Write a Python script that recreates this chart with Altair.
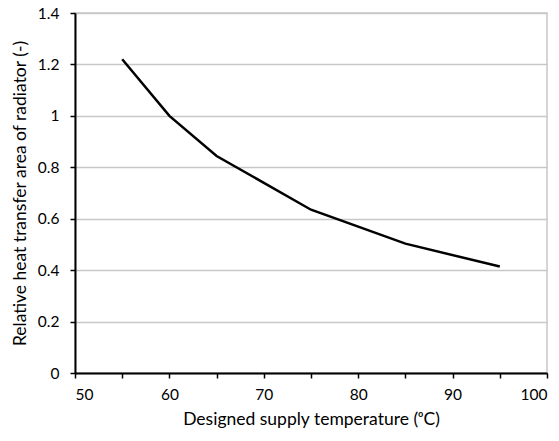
import altair as alt
import pandas as pd

temps = [55, 60, 65, 75, 85, 95]
area = [1.22, 1.0, 0.844, 0.635, 0.503, 0.414]

df = pd.DataFrame({"temp": temps, "area": area})

FONT = "Lato"

line = alt.Chart(df).mark_line(color="black", strokeWidth=2.5).encode(
    x=alt.X("temp:Q",
            scale=alt.Scale(domain=[50, 100], nice=False, zero=False),
            axis=alt.Axis(values=list(range(50, 101, 5)),
                          labelExpr="datum.value % 10 == 0 ? datum.label : ''",
                          title="Designed supply temperature  (\u1d52C)",
                          grid=False)),
    y=alt.Y("area:Q",
            scale=alt.Scale(domain=[0, 1.4], nice=False),
            axis=alt.Axis(values=[0, 0.2, 0.4, 0.6, 0.8, 1.0, 1.2, 1.4],
                          format="~g",
                          title="Relative heat transfer area of radiator (-)")),
)

chart = line.properties(
    width=472, height=360,
    autosize="none",
    padding={"left": 75, "top": 13, "right": 12, "bottom": 68},
).configure_view(
    stroke="#C8C8C8", strokeWidth=1.5
).configure_axis(
    domainColor="black", domainWidth=2,
    tickColor="black", tickWidth=1.5, tickSize=5,
    labelFont=FONT, titleFont=FONT,
    labelFontSize=15.5, titleFontSize=17.5,
    labelColor="#000000", titleColor="#000000",
    titleFontWeight="normal",
    gridColor="#C8C8C8", gridWidth=1.5,
).configure_axisX(
    labelPadding=9,
    titlePadding=8,
).configure_axisY(
    labelPadding=11,
    titlePadding=8,
)

chart.save("out.html", embed_options={"renderer": "svg", "actions": False})
